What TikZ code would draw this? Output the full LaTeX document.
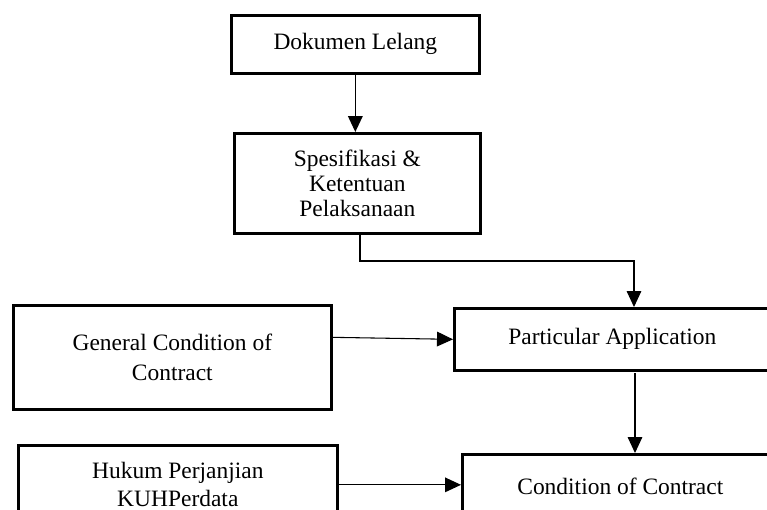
\documentclass[tikz,border=0pt]{standalone}
\usepackage{fontspec}
\setmainfont{Liberation Serif}
\usetikzlibrary{arrows.meta,calc}
\begin{document}
\begin{tikzpicture}[x=0.75pt,y=-0.75pt,
  box/.style={draw, line width=2pt, anchor=north west, align=center, inner sep=0pt},
  arr/.style={line width=0.8pt, -{Triangle[length=12pt,width=11pt]}},
  txt/.style={font=\fontsize{17.6pt}{#1}\selectfont}]
\useasboundingbox (0,0) rectangle (767,510);
\clip (0,0) rectangle (767,510);
\node[box, txt=22pt, minimum width=186pt, minimum height=43.5pt] (dok) at (230,14) {Dokumen Lelang};
\node[box, txt=18.5pt, minimum width=184.5pt, minimum height=75pt] (spes) at (233,132) {Spesifikasi \&\\Ketentuan\\Pelaksanaan};
\node[box, txt=22.5pt, minimum width=238.5pt, minimum height=78pt] (gen) at (12,304) {General Condition of\\Contract};
\node[box, txt=21pt, minimum width=239.25pt, minimum height=59.25pt] (huk) at (17,444) {Hukum Perjanjian\\KUHPerdata};
\node[box, txt=22pt, minimum width=237pt, minimum height=46.5pt] (part) at (453,307) {Particular Application};
\node[box, txt=22pt, minimum width=237pt, minimum height=48pt] (cond) at (461,453) {Condition of Contract};
\coordinate (t1) at (360,261);
\coordinate (t2) at (634,261);
\coordinate (t3) at (635,373);
\draw[arr, line width=1.1pt] (dok.south) -- (dok.south |- spes.north);
\draw[arr] (spes.south -| t1) -- (t1) -- (t2) -- (part.north -| t2);
\draw[arr] ([yshift=15pt]gen.east) -- (part.west);
\draw[arr] (t3) -- (cond.north -| t3);
\draw[arr] (huk.east) -- (huk.east -| cond.west);
\end{tikzpicture}
\end{document}
